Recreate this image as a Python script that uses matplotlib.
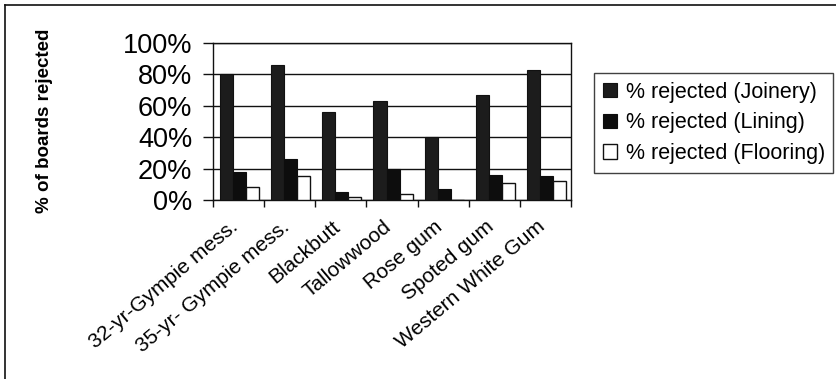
import matplotlib
matplotlib.use("Agg")
import matplotlib.pyplot as plt
from matplotlib.lines import Line2D
from matplotlib.ticker import FixedLocator, FuncFormatter
import numpy as np

plt.rcParams['font.family'] = ['Liberation Sans', 'DejaVu Sans']

categories = ["32-yr-Gympie mess.", "35-yr- Gympie mess.", "Blackbutt", "Tallowwood",
              "Rose gum", "Spoted gum", "Western White Gum"]
joinery = [80, 86, 56, 63, 40, 67, 83]
lining = [18, 26, 5, 20, 7, 16, 15]
flooring = [8, 15, 2, 4, 0, 11, 12]
series_names = ["% rejected (Joinery)", "% rejected (Lining)", "% rejected (Flooring)"]
y_ticks = [0, 20, 40, 60, 80, 100]

fig = plt.figure(figsize=(8.37, 3.79), dpi=100)
ax = fig.add_axes([213/837, 1-200/379, (571-213)/837, (200-43)/379])

x = np.arange(len(categories))
w = 0.255
off = 0.02
b1 = ax.bar(x - w + off, joinery, w, color='#1c1c1c', edgecolor='#111111', linewidth=0.8, zorder=3)
b2 = ax.bar(x + off, lining, w, color='#0d0d0d', edgecolor='#0d0d0d', linewidth=0.8, zorder=3)
b3 = ax.bar(x + w + off, flooring, w, color='white', edgecolor='#111111', linewidth=1.0, zorder=3)

ax.set_xlim(-0.5, len(categories) - 0.5)
ax.set_ylim(0, 100)
ax.yaxis.set_major_locator(FixedLocator(y_ticks))
ax.yaxis.set_major_formatter(FuncFormatter(lambda v, p: f"{int(v)}%"))
ax.grid(axis='y', color='#111111', linewidth=1.0, zorder=0)
ax.set_axisbelow(True)

# label anchors sit slightly left of each category centre, as in the reference
ax.set_xticks(x - 0.18)
ax.set_xticklabels(categories, rotation=40, ha='right', va='top', rotation_mode='anchor')
ax.set_xticks(np.arange(-0.5, len(categories)), minor=True)
ax.tick_params(axis='x', which='major', length=0, pad=12, labelsize=15)
ax.tick_params(axis='x', which='minor', length=5, width=1, direction='out', color='#111111')
ax.tick_params(axis='y', which='major', length=7, width=1, direction='out', pad=8, labelsize=19.5, color='#111111')

for s in ax.spines.values():
    s.set_color('#111111')
    s.set_linewidth(1.0)

fig.text(45/837, 1-121/379, "% of boards rejected", rotation=90, ha='center', va='center',
         fontsize=13.5, fontweight='bold')

leg = fig.legend([b1, b2, b3], series_names, loc='upper left',
                 bbox_to_anchor=(594/837, 1-170/379, (833-594)/837, (170-73)/379),
                 mode='expand', fontsize=15.5, frameon=True, fancybox=False,
                 edgecolor='#111111', handlelength=0.65, handleheight=0.65,
                 handletextpad=0.45, borderpad=0.4, labelspacing=0.45, borderaxespad=0)
leg.get_frame().set_linewidth(1.0)

# outer frame (top and left edges visible)
fig.add_artist(Line2D([5/837, 5/837], [0, 1-5/379], transform=fig.transFigure, color='#111111', linewidth=1.2))
fig.add_artist(Line2D([5/837, 1], [1-5/379, 1-5/379], transform=fig.transFigure, color='#111111', linewidth=1.2))

fig.savefig("out.png", dpi=100)
